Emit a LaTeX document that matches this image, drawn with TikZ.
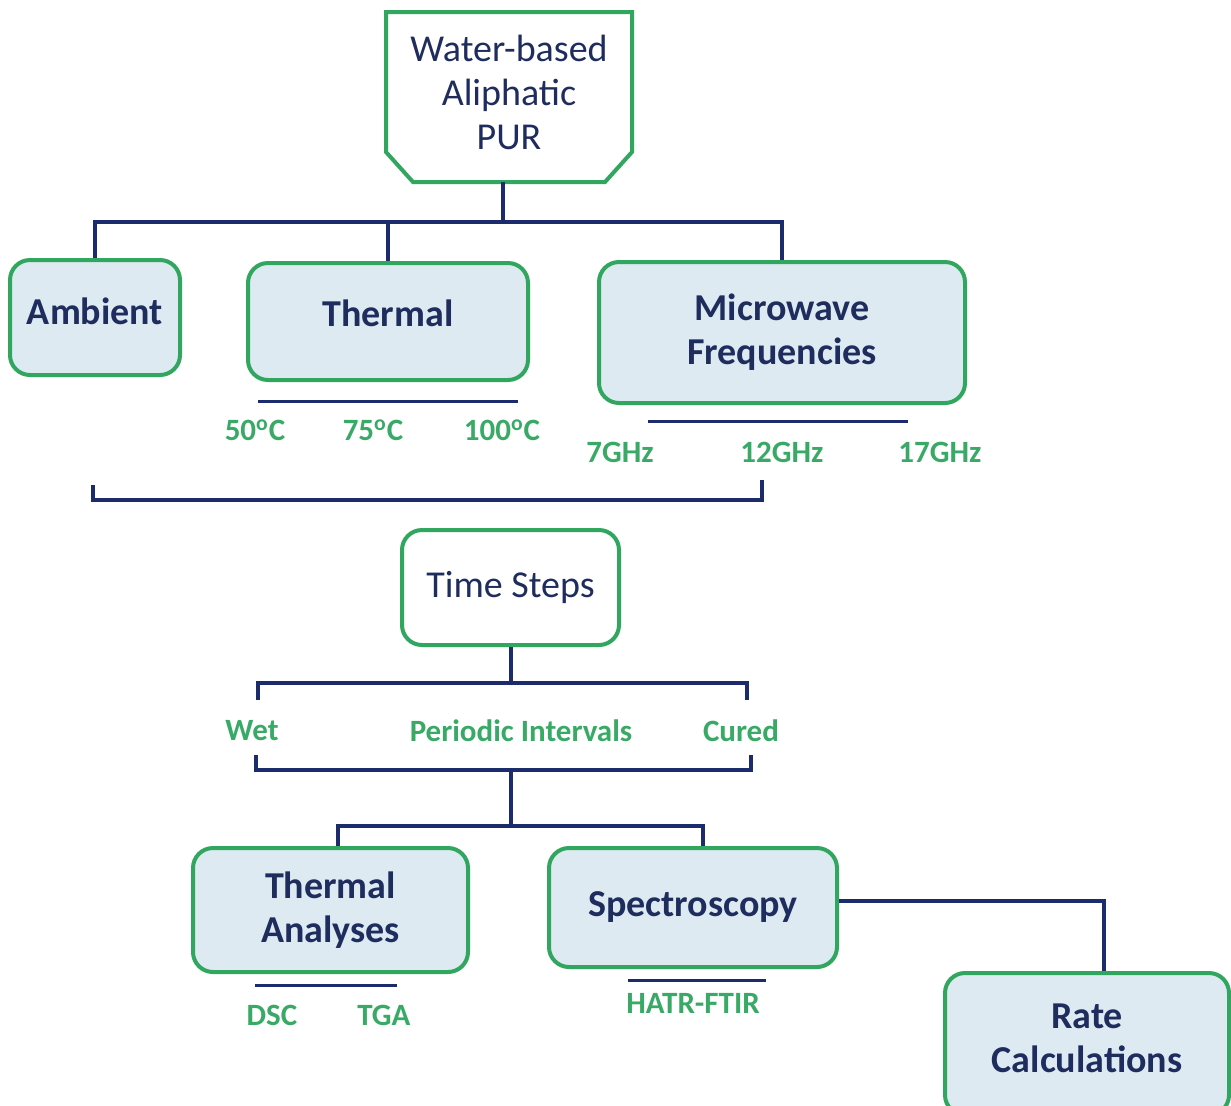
\documentclass[tikz,border=0pt]{standalone}
\usepackage{fontspec}
\setmainfont{Carlito}
\usetikzlibrary{calc}
\definecolor{navy}{HTML}{1B2B6B}
\definecolor{inknavy}{HTML}{1F2D5E}
\definecolor{leaf}{HTML}{30A65E}
\definecolor{tagleaf}{HTML}{38AA66}
\definecolor{mist}{HTML}{DDEAF2}
\tikzset{
  stagebox/.style={draw=leaf,fill=mist,rounded corners=10pt,line width=2pt,align=center,
    text=inknavy,font=\fontsize{19}{22}\selectfont\bfseries,inner sep=0pt},
  startbox/.style={stagebox,fill=white,font=\fontsize{19}{22}\selectfont},
  tag/.style={text=tagleaf,font=\fontsize{15.5}{18}\selectfont\bfseries,inner sep=0pt},
  bus/.style={draw=navy,line width=2pt},
  rule/.style={draw=navy,line width=1.5pt},
}

\begin{document}
\begin{tikzpicture}[x=0.5pt,y=-0.5pt]
  \useasboundingbox (0,0) rectangle (1231,1105);

  % Sample: chamfered title box.
  \node[startbox,draw=none,minimum width=121pt,minimum height=83pt,text depth=5pt] (pur) at (509,97)
    {Water-based\\Aliphatic\\PUR};
  \draw[leaf,line width=2pt] (pur.north west) -- ($(pur.south west)+(0,-30)$)
    -- ($(pur.south west)+(27,0)$) -- ($(pur.south east)+(-27,0)$)
    -- ($(pur.south east)+(0,-30)$) -- (pur.north east) -- cycle;

  % Curing routes.
  \node[stagebox,minimum width=85pt,minimum height=57.5pt,text depth=6.5pt] (amb) at (95,317.5) {Ambient};
  \node[stagebox,minimum width=140pt,minimum height=58.5pt,text depth=8.5pt] (therm) at (388,321.5) {Thermal};
  \node[stagebox,minimum width=183pt,minimum height=70.5pt] (micro) at (782,332.5)
    {Microwave\\Frequencies};
  \coordinate (busA) at (503,222);
  \draw[bus] (busA |- pur.south) -- (busA);
  \draw[bus] (amb.north) |- (busA) -| (micro.north);
  \draw[bus] (therm.north) -- (therm.north |- busA);

  \draw[rule] (258,401) -- (518,401);
  \node[tag] (t50) at (255,430) {50\textsuperscript{o}C};
  \node[tag] (t75) at (373,430) {75\textsuperscript{o}C};
  \node[tag] (t100) at (502,430) {100\textsuperscript{o}C};
  \draw[rule] (648,421) -- (908,421);
  \node[tag] (f7) at (620,452) {7GHz};
  \node[tag] (f12) at (782,452) {12GHz};
  \node[tag] (f17) at (940,452) {17GHz};

  \coordinate (brL) at (93,485);
  \coordinate (brR) at (762,480);
  \draw[bus] (brL) -- ++(0,15) -| (brR);

  % Sampling in time.
  \node[startbox,minimum width=108.5pt,minimum height=57.5pt] (ts) at (510.5,587.5) {Time Steps};
  \coordinate (busB) at (510.5,683);
  \coordinate (wetT) at (258,700);
  \coordinate (curT) at (747,700);
  \draw[bus] (ts.south) -- (busB);
  \draw[bus] (wetT) |- (busB) -| (curT);
  \node[tag] (wet) at (252,731) {Wet};
  \node[tag] (per) at (521,731) {Periodic Intervals};
  \node[tag] (cur) at (741,731) {Cured};
  \coordinate (busC) at (510.5,770);
  \coordinate (busD) at (510.5,826);
  \coordinate (wetB) at (256,755);
  \coordinate (curB) at (751,755);
  \draw[bus] (wetB) |- (busC) -| (curB);
  \draw[bus] (busC) -- (busD);

  % Characterisation.
  \node[stagebox,minimum width=137.5pt,minimum height=62pt] (ta) at (330.5,910)
    {Thermal\\Analyses};
  \node[stagebox,minimum width=144pt,minimum height=59.5pt] (sp) at (693,907.5) {Spectroscopy};
  \node[stagebox,minimum width=142pt,minimum height=71pt,text depth=6pt] (rate) at (1087,1044)
    {Rate\\Calculations};
  \draw[bus] ($(ta.north)+(7.5,0)$) |- (busD) -| ($(sp.north)+(10,0)$);
  \draw[bus] ($(sp.east)+(0,-6.5)$) -| ($(rate.north)+(17,0)$);

  \draw[rule] (255,985) -- (397,985);
  \node[tag] (dsc) at (272,1015) {DSC};
  \node[tag] (tga) at (384,1015) {TGA};
  \draw[rule] (628,980) -- (766,980);
  \node[tag] (ftir) at (693,1003) {HATR-FTIR};
\end{tikzpicture}
\end{document}
